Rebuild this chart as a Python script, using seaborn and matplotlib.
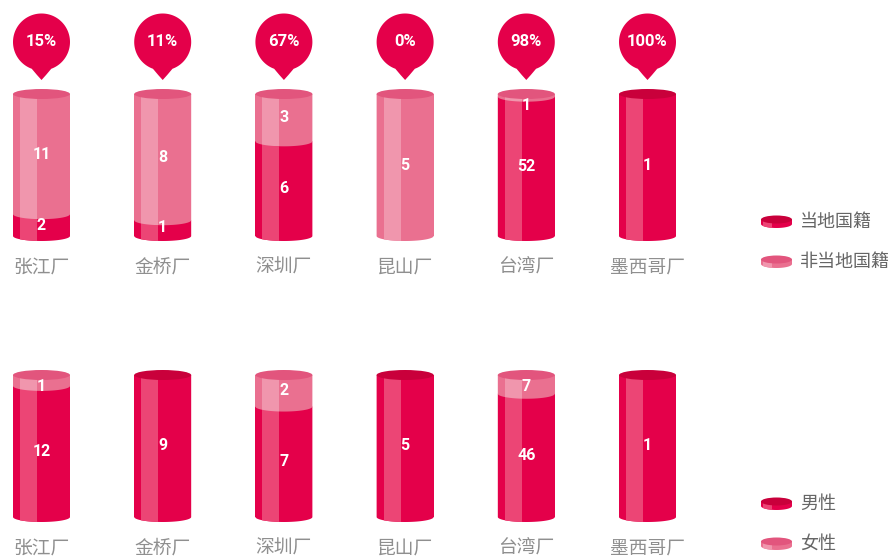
import numpy as np
import pandas as pd
import matplotlib
matplotlib.use("Agg")
import matplotlib.pyplot as plt
import seaborn as sns
from matplotlib.patches import PathPatch, Ellipse, Rectangle, Polygon
from matplotlib.path import Path

# ---- data -------------------------------------------------------------
factories = ["张江厂", "金桥厂", "深圳厂", "昆山厂", "台湾厂", "墨西哥厂"]
local_counts = [2, 1, 6, 0, 52, 1]
nonlocal_counts = [11, 8, 3, 5, 1, 0]
local_share = ["15%", "11%", "67%", "0%", "98%", "100%"]
male_counts = [12, 9, 7, 5, 46, 1]
female_counts = [1, 0, 2, 0, 7, 0]
nationality_legend = ["当地国籍", "非当地国籍"]
gender_legend = ["男性", "女性"]

# ---- style ------------------------------------------------------------
DARK, DARK_STRIPE, DARK_CAP = "#E4004A", "#EC4575", "#C9003B"
PINK, PINK_STRIPE, PINK_CAP = "#EA7090", "#F096AD", "#E2557D"
LABEL_GREY, LEGEND_GREY = "#8f8f8f", "#666666"
NUM_FONT = ["Roboto", "DejaVu Sans"]

sns.set_theme(style="white")
plt.rcParams["font.family"] = ["Noto Sans CJK SC", "DejaVu Sans"]

W, H = 895, 558
fig = plt.figure(figsize=(W / 100, H / 100), dpi=100)
fig.patch.set_facecolor("white")


def fig_rect(x0, y_top, x1, y_bottom):
    return [x0 / W, 1 - y_bottom / H, (x1 - x0) / W, (y_bottom - y_top) / H]


def draw_segment(ax, x0, x1, y0, y1, ry, color, stripe, stripe_frac=(0.123, 0.42)):
    """Cylinder slice: straight top, elliptical bulge at the bottom, light stripe."""
    xc, a = (x0 + x1) / 2, (x1 - x0) / 2
    t = np.linspace(np.pi, 2 * np.pi, 60)
    pts = np.column_stack([xc + a * np.cos(t), y0 + ry * np.sin(t)])
    pts = np.vstack([pts, [x1, y1], [x0, y1], pts[:1]])
    codes = [Path.MOVETO] + [Path.LINETO] * (len(pts) - 2) + [Path.CLOSEPOLY]
    body = PathPatch(Path(pts, codes), facecolor=color, edgecolor="none",
                     clip_on=False, zorder=3)
    ax.add_patch(body)
    sx0 = x0 + stripe_frac[0] * (x1 - x0)
    sx1 = x0 + stripe_frac[1] * (x1 - x0)
    band = Rectangle((sx0, y0 - ry), sx1 - sx0, y1 - y0 + ry,
                     facecolor=stripe, edgecolor="none", zorder=3.1)
    ax.add_patch(band)
    band.set_clip_box(None)
    band.set_clip_path(body)


def draw_cap(ax, x0, x1, y, ry, color):
    ax.add_patch(Ellipse(((x0 + x1) / 2, y), x1 - x0, 2 * ry, facecolor=color,
                         edgecolor="none", clip_on=False, zorder=3.5))


def cylinder_row(ax, low, high, show_pins=None):
    low = np.asarray(low, float)
    high = np.asarray(high, float)
    total = low + high
    df = pd.DataFrame({"factory": factories,
                       "full": np.where(high > 0, 1.0, 0.0),
                       "low_frac": low / total})
    sns.barplot(data=df, x="factory", y="full", color=PINK, width=0.47,
                linewidth=0, saturation=1, ax=ax)
    sns.barplot(data=df, x="factory", y="low_frac", color=DARK, width=0.47,
                linewidth=0, saturation=1, ax=ax)
    ax.set_xlim(-41.5 / 121.2, (740 - 41.5) / 121.2)
    ax.set_ylim(0, 1)
    ax.set_axis_off()

    # pixel size of one data unit, used for round shapes
    (p0x, p0y), (p1x, p1y) = ax.transData.transform([(0, 0), (1, 1)])
    ppx, ppy = p1x - p0x, p1y - p0y
    ry = 5.0 / ppy

    bars = ax.patches[:len(factories)]
    for i, bar in enumerate(bars):
        x0 = bar.get_x()
        x1 = x0 + bar.get_width()
        xc = (x0 + x1) / 2
        split = low[i] / total[i]
        top_color = DARK_CAP
        if low[i] > 0:
            draw_segment(ax, x0, x1, 0.0, split, ry, DARK, DARK_STRIPE)
        if high[i] > 0:
            draw_segment(ax, x0, x1, split, 1.0, ry, PINK, PINK_STRIPE)
            top_color = PINK_CAP
        draw_cap(ax, x0, x1, 1.0, ry, top_color)

        for v, a, b in ((low[i], 0.0, split), (high[i], split, 1.0)):
            if v > 0:
                ym = min(max((a + b) / 2, 0.06), 0.92)
                ax.text(xc, ym, f"{int(v)}", color="white", fontsize=11.5,
                        fontweight="bold", family=NUM_FONT, ha="center",
                        va="center", zorder=5)

        ax.text(xc, -31 / ppy, factories[i], color=LABEL_GREY, fontsize=13.5,
                ha="center", va="center", zorder=5)

        if show_pins is not None:
            cy = 194 / ppy
            r = 28.5
            ang = np.linspace(np.deg2rad(-70), np.deg2rad(250), 120)
            px = r * np.cos(ang)
            py = r * np.sin(ang)
            tip = np.array([[-4.5, -33.0], [0.0, -38.0], [4.5, -33.0]])
            poly = np.vstack([np.column_stack([px, py]), tip])
            poly = np.column_stack([xc + poly[:, 0] / ppx, cy + poly[:, 1] / ppy])
            ax.add_patch(Polygon(poly, closed=True, facecolor=DARK,
                                 edgecolor="none", clip_on=False, zorder=4))
            ax.text(xc, cy, show_pins[i], color="white", fontsize=12,
                    fontweight="bold", family=NUM_FONT, ha="center",
                    va="center", zorder=5)


ax_top = fig.add_axes(fig_rect(0, 94, 740, 236))
cylinder_row(ax_top, local_counts, nonlocal_counts, show_pins=local_share)

ax_bot = fig.add_axes(fig_rect(0, 375, 740, 517))
cylinder_row(ax_bot, male_counts, female_counts)

# ---- legends ------------------------------------------------------------
ax_leg = fig.add_axes([0, 0, 1, 1], zorder=2)
ax_leg.set_xlim(0, W)
ax_leg.set_ylim(0, H)
ax_leg.set_axis_off()
ax_leg.patch.set_alpha(0)


def legend_item(yc, label, color, stripe, cap):
    x0, x1 = 761, 792
    draw_segment(ax_leg, x0, x1, H - (yc + 2.0), H - (yc - 2.5), 4.0,
                 color, stripe, stripe_frac=(0.08, 0.36))
    draw_cap(ax_leg, x0, x1, H - (yc - 2.5), 4.0, cap)
    ax_leg.text(800, H - yc, label, color=LEGEND_GREY, fontsize=13,
                ha="left", va="center")


legend_item(222, nationality_legend[0], DARK, DARK_STRIPE, DARK_CAP)
legend_item(262, nationality_legend[1], PINK, PINK_STRIPE, PINK_CAP)
legend_item(504, gender_legend[0], DARK, DARK_STRIPE, DARK_CAP)
legend_item(544, gender_legend[1], PINK, PINK_STRIPE, PINK_CAP)

fig.savefig("out.png", dpi=100, facecolor="white")
